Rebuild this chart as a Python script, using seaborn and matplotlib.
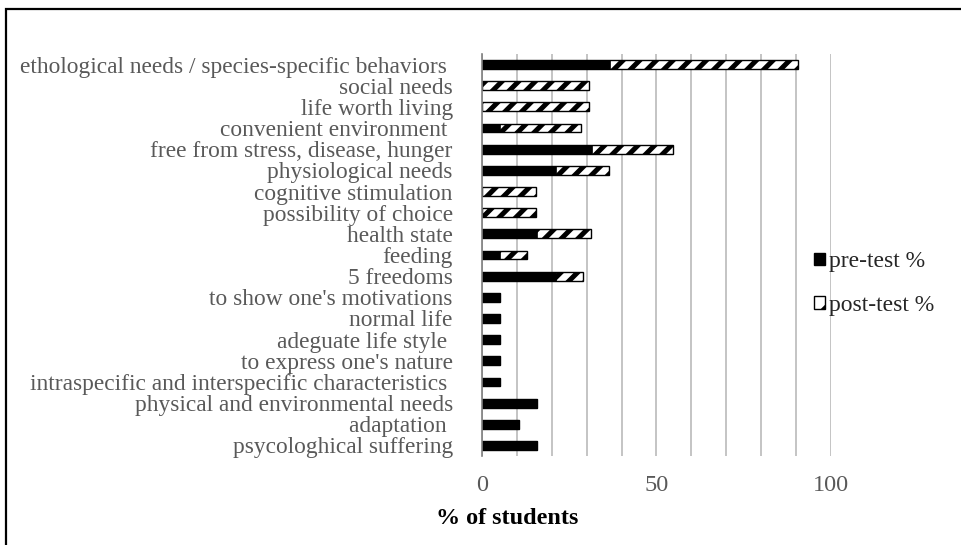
import matplotlib
matplotlib.use("Agg")
import matplotlib.pyplot as plt
from matplotlib.patches import Patch, Rectangle
import seaborn as sns
import pandas as pd

categories = [
    "ethological needs / species-specific behaviors ",
    "social needs",
    "life worth living",
    "convenient environment ",
    "free from stress, disease, hunger",
    "physiological needs",
    "cognitive stimulation",
    "possibility of choice",
    "health state",
    "feeding",
    "5 freedoms",
    "to show one's motivations",
    "normal life",
    "adeguate life style ",
    "to express one's nature",
    "intraspecific and interspecific characteristics ",
    "physical and environmental needs",
    "adaptation ",
    "psycologhical suffering",
]
pre_test = [36.8, 0, 0, 5.3, 31.6, 21.1, 0, 0, 15.8, 5.3, 21.1,
            5.3, 5.3, 5.3, 5.3, 5.3, 15.8, 10.5, 15.8]
post_test = [53.8, 30.8, 30.8, 23.1, 23.1, 15.4, 15.4, 15.4, 15.4, 7.7, 7.7,
             0, 0, 0, 0, 0, 0, 0, 0]
x_ticks = [0, 50, 100]

sns.set_theme(style="white")
plt.rcParams["font.family"] = ["Liberation Serif", "DejaVu Serif"]
plt.rcParams["hatch.linewidth"] = 3.6
plt.rcParams["hatch.color"] = "black"

df = pd.DataFrame({"category": categories, "pre": pre_test, "post": post_test})
df["total"] = df["pre"] + df["post"]

fig = plt.figure(figsize=(9.62, 5.45), dpi=100)
ax = fig.add_axes([482 / 962, 1 - 456 / 545, (831 - 482) / 962, (456 - 54) / 545])

grey = "#595959"
grid_c = "#BFBFBF"

# stacked look: hatched total underneath, solid pre-test on top
sns.barplot(data=df, y="category", x="total", ax=ax, color="white",
            edgecolor="black", linewidth=1.0, hatch="//", width=0.42,
            orient="h", saturation=1)
sns.barplot(data=df[df["pre"] > 0], y="category", x="pre", ax=ax,
            color="black", edgecolor="black", linewidth=0.5, width=0.42,
            orient="h", saturation=1, order=categories)

ax.set_xlim(0, 100)
ax.set_ylim(len(categories) - 0.5, -0.5)
ax.set_xticks(range(0, 101, 10))
ax.set_xticklabels([str(v) if v in x_ticks else "" for v in range(0, 101, 10)],
                   color=grey, fontsize=17.5)
ax.tick_params(axis="x", length=0, pad=14)
ax.xaxis.grid(True, color=grid_c, linewidth=1.3)
ax.set_axisbelow(True)

ax.set_yticks(range(len(categories)))
ax.set_yticklabels(categories, color=grey, fontsize=16.8)
ax.tick_params(axis="y", which="major", length=0, pad=21)
ax.set_yticks([i - 0.5 for i in range(len(categories) + 1)], minor=True)
ax.tick_params(axis="y", which="minor", length=6, color="#7F7F7F", width=1.2)

for s in ["top", "right", "bottom"]:
    ax.spines[s].set_visible(False)
ax.spines["left"].set_color("#7F7F7F")
ax.spines["left"].set_linewidth(1.2)

ax.set_xlabel("")
ax.set_ylabel("")
fig.text(507 / 962, 1 - 518 / 545, "% of students", ha="center", va="center",
         fontsize=17.4, fontweight="bold", color="black")

handles = [Patch(facecolor="black", edgecolor="black", label="pre-test %"),
           Patch(facecolor="white", edgecolor="black", hatch="/", label="post-test %")]
fig.legend(handles=handles, loc="upper left", bbox_to_anchor=(805 / 962, 1 - 242 / 545),
           frameon=False, fontsize=17, handlelength=0.45, handleheight=0.45,
           handletextpad=0.15, labelspacing=0.95, borderaxespad=0)

fig.add_artist(Rectangle((6 / 962, -0.1), 1.2, 1 - 9 / 545 + 0.1,
                         transform=fig.transFigure, fill=False,
                         edgecolor="black", linewidth=1.6))

fig.savefig("out.png", dpi=100)
